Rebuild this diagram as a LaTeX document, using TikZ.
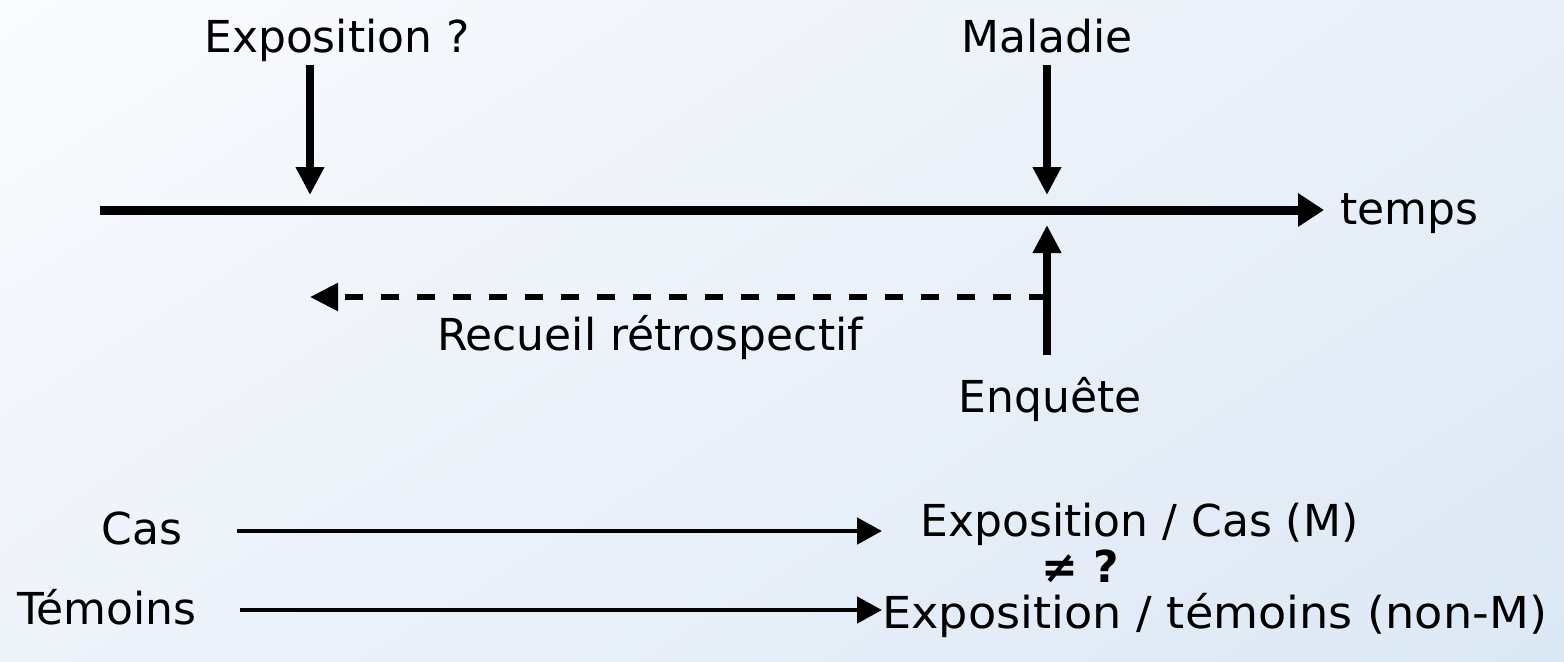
\documentclass[tikz,border=0pt]{standalone}
\usepackage{fontspec}
\setmainfont{DejaVu Sans}
\usetikzlibrary{arrows.meta,shadings}
\definecolor{bgTL}{RGB}{250,251,253}
\definecolor{bgTR}{RGB}{232,239,248}
\definecolor{bgBL}{RGB}{238,243,250}
\definecolor{bgBR}{RGB}{220,232,245}
\tikzset{
  lbl/.style={inner sep=0pt, font=\fontsize{22}{26}\selectfont},
  bigarrow/.style={line width=3.8pt, -{Triangle[length=14pt,width=13.5pt]}},
  axisarrow/.style={line width=4.5pt, -{Triangle[length=13pt,width=16pt]}},
  dasharrow/.style={line width=2.8pt, dash pattern=on 9pt off 9pt, -{Triangle[length=14pt,width=13.5pt]}},
  thinarrow/.style={line width=2.4pt, -{Triangle[length=12.5pt,width=13pt]}}
}
\begin{document}
\begin{tikzpicture}[x=0.5pt,y=-0.5pt]
\useasboundingbox (0,0) rectangle (1564,661);
\shade[upper left=bgTL, upper right=bgTR, lower left=bgBL, lower right=bgBR] (0,0) rectangle (1564,661);
% axis
\coordinate (axL) at (100,210);
\coordinate (axR) at (1324,210);
\node[lbl, anchor=base west] (temps) at (1340,224) {temps};
\draw[axisarrow] (axL) -- (axR);
% top labels
\node[lbl, anchor=base] (expo) at (337,52) {Exposition ?};
\node[lbl, anchor=base] (mal) at (1047,52) {Maladie};
\coordinate (expoS) at (310,65);
\coordinate (expoT) at (310,195);
\coordinate (malS) at (1047,65);
\coordinate (malT) at (1047,195);
\draw[bigarrow] (expoS) -- (expoT);
\draw[bigarrow] (malS) -- (malT);
% enquete
\node[lbl, anchor=base] (enq) at (1050,412) {Enquête};
\coordinate (enqS) at (1047,355);
\coordinate (enqT) at (1047,225);
\draw[bigarrow] (enqS) -- (enqT);
\coordinate (dashS) at (1047,297);
\coordinate (dashT) at (310,297);
\draw[dasharrow] (dashS) -- (dashT);
\node[lbl, anchor=base] (recueil) at (650,350) {Recueil rétrospectif};
% bottom
\node[lbl, anchor=base] (cas) at (142,544) {Cas};
\node[lbl, anchor=base] (tem) at (107,624) {Témoins};
\node[lbl, anchor=base west] (ec) at (920,536) {Exposition / Cas (M)};
\node[lbl, anchor=base, font=\fontsize{22}{26}\selectfont\bfseries] (neq) at (1080,582) {≠ ?};
\node[lbl, anchor=base west] (et) at (882,628) {\scalebox{1.05}[1]{Exposition / témoins (non-M)}};
\coordinate (casS) at (237,531);
\coordinate (casT) at (882,531);
\coordinate (temS) at (240,610);
\coordinate (temT) at (882,610);
\draw[thinarrow] (casS) -- (casT);
\draw[thinarrow] (temS) -- (temT);
\end{tikzpicture}
\end{document}
